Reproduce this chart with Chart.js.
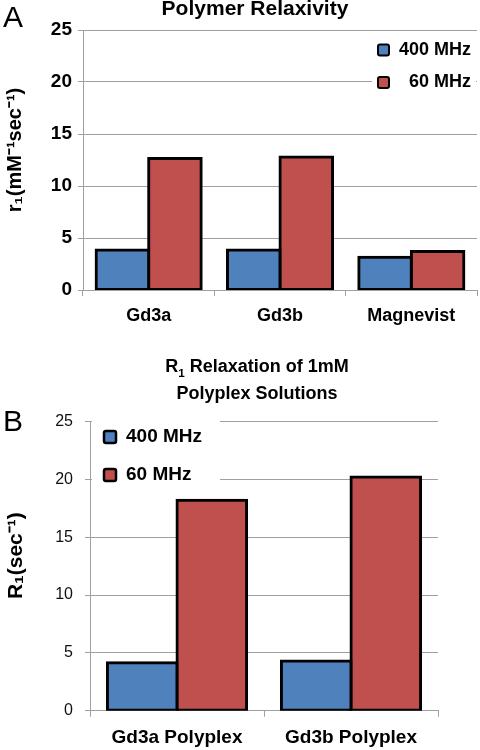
<!DOCTYPE html>
<html>
<head>
<meta charset="utf-8">
<script src="https://cdn.jsdelivr.net/npm/chart.js@4.4.1/dist/chart.umd.min.js"></script>
<style>
  html, body { margin: 0; padding: 0; background: #fff; }
  #page { position: relative; width: 480px; height: 750px; overflow: hidden; font-family: "Liberation Sans", Arial, sans-serif; }
  .letter { position: absolute; font-size: 30px; line-height: 30px; color: #000; }
  .title { position: absolute; left: 0; text-align: center; font-weight: bold; color: #000; white-space: nowrap; }
  .title sub { font-size: 0.65em; line-height: 0; }
  canvas { position: absolute; left: 0; }
</style>
</head>
<body>
<div id="page">
  <canvas id="chartA" width="480" height="335" style="top:0"></canvas>
  <canvas id="chartB" width="480" height="350" style="top:400px"></canvas>
  <div class="letter" style="left:3px; top:2px">A</div>
  <div class="letter" style="left:3px; top:406px">B</div>
  <div class="title" style="width:510px; top:-4px; font-size:21px; line-height:24px">Polymer Relaxivity</div>
  <div class="title" style="width:514px; top:353px; font-size:18px; line-height:27px">R<sub>1</sub> Relaxation of 1mM<br>Polyplex Solutions</div>
</div>
<script>
// panel A - polymer relaxivity
const polymers = ['Gd3a', 'Gd3b', 'Magnevist'];
const relax400 = [3.85, 3.85, 3.15];
const relax60 = [12.65, 12.8, 3.7];

// panel B - polyplex solutions
const polyplexes = ['Gd3a Polyplex', 'Gd3b Polyplex'];
const rate400 = [4.15, 4.3];
const rate60 = [18.2, 20.2];

const seriesNames = ['400 MHz', '60 MHz'];
const yTicks = [0, 5, 10, 15, 20, 25];

const blue = '#4f81bd';
const red = '#c0504d';
const gridGray = '#a0a0a0';

Chart.defaults.font.family = '"Liberation Sans", Arial, sans-serif';
Chart.defaults.color = '#000';

// legend drawn inside the plot, with a white patch behind it like excel does
const boxLegend = {
  id: 'boxLegend',
  afterDatasetsDraw(chart, args, opts) {
    const ctx = chart.ctx;
    ctx.save();
    ctx.fillStyle = '#fff';
    ctx.fillRect(opts.bg[0], opts.bg[1], opts.bg[2], opts.bg[3]);
    ctx.font = opts.font;
    ctx.textBaseline = 'middle';
    ctx.textAlign = opts.align;
    chart.data.datasets.forEach((ds, i) => {
      const y = opts.y + i * opts.gap;
      ctx.beginPath();
      ctx.roundRect(opts.x, y - opts.box / 2, opts.box, opts.box, 2);
      ctx.fillStyle = ds.backgroundColor;
      ctx.fill();
      ctx.lineWidth = opts.stroke;
      ctx.strokeStyle = '#000';
      ctx.stroke();
      ctx.fillStyle = '#000';
      ctx.fillText(ds.label, opts.textX, y);
    });
    ctx.restore();
  }
};

const makeBars = (labels, a, b) => ({
  labels: labels,
  datasets: [
    { label: seriesNames[0], data: a, backgroundColor: blue },
    { label: seriesNames[1], data: b, backgroundColor: red }
  ]
});

const barStyle = {
  borderColor: '#000',
  borderWidth: 3,
  borderSkipped: false,
  inflateAmount: 1.5,
  categoryPercentage: 0.8,
  barPercentage: 1.0
};

const makeOptions = (cfg) => ({
  responsive: false,
  animation: false,
  layout: { padding: cfg.padding },
  datasets: { bar: barStyle },
  scales: {
    x: {
      afterFit: (s) => { s.height = cfg.xHeight; },
      grid: { drawOnChartArea: false, offset: true, tickLength: 6, color: gridGray },
      border: { color: gridGray },
      ticks: { font: cfg.xFont, padding: cfg.xPad, color: '#000', maxRotation: 0 }
    },
    y: {
      min: 0,
      max: 25,
      afterFit: (s) => { s.width = cfg.yWidth; },
      afterBuildTicks: (s) => { s.ticks = yTicks.map(v => ({ value: v })); },
      grid: { color: gridGray, tickLength: 5 },
      border: { color: gridGray },
      ticks: { font: cfg.yFont, padding: cfg.yPad, color: cfg.yColor },
      title: { display: true, text: cfg.yTitle, font: cfg.yTitleFont, padding: { top: cfg.yTitlePad, bottom: 0 }, color: '#000' }
    }
  },
  plugins: {
    legend: { display: false },
    tooltip: { enabled: false },
    boxLegend: cfg.legend
  }
});

// the leading en spaces nudge the rotated titles up a little, as in the original
new Chart(document.getElementById('chartA'), {
  type: 'bar',
  data: makeBars(polymers, relax400, relax60),
  plugins: [boxLegend],
  options: makeOptions({
    padding: { top: 30, right: 3, left: 0, bottom: 0 },
    xHeight: 45,
    yWidth: 83,
    xFont: { size: 18, weight: 'bold' },
    xPad: 9,
    yFont: { size: 19, weight: 'bold' },
    yPad: 6,
    yColor: '#000',
    yTitle: '\u2002\u2002r\u2081(mM\u207B\u00B9sec\u207B\u00B9)',
    yTitleFont: { size: 20, weight: 'bold' },
    yTitlePad: 3,
    legend: { bg: [372, 37, 104, 58], x: 378, y: 50, gap: 32.5, box: 11, stroke: 2, textX: 471, align: 'right', font: 'bold 18px "Liberation Sans", Arial, sans-serif' }
  })
});

new Chart(document.getElementById('chartB'), {
  type: 'bar',
  data: makeBars(polyplexes, rate400, rate60),
  plugins: [boxLegend],
  options: makeOptions({
    padding: { top: 18.7, right: 42, left: 0, bottom: 0 },
    xHeight: 39.3,
    yWidth: 90,
    xFont: { size: 19, weight: 'bold' },
    xPad: 10,
    yFont: { size: 16 },
    yPad: 12,
    yColor: '#111',
    yTitle: '\u2002\u2002R\u2081(sec\u207B\u00B9)',
    yTitleFont: { size: 21, weight: 'bold' },
    yTitlePad: 4,
    legend: { bg: [92, 21, 128, 74], x: 104, y: 37, gap: 38, box: 12, stroke: 2.5, textX: 126, align: 'left', font: 'bold 19px "Liberation Sans", Arial, sans-serif' }
  })
});
</script>
</body>
</html>
